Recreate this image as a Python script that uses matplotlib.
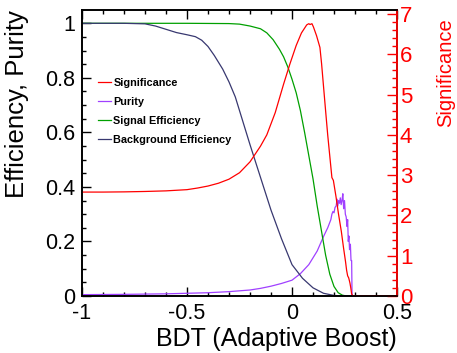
import matplotlib
matplotlib.use("Agg")
import matplotlib.pyplot as plt
from matplotlib.ticker import MultipleLocator, FuncFormatter

plt.rcParams['font.family'] = ['Liberation Sans', 'DejaVu Sans']
plt.rcParams['axes.unicode_minus'] = False

# Significance (right axis)
sig_x = [-1.0, -0.9, -0.8, -0.7, -0.6, -0.5, -0.45, -0.4, -0.35, -0.3, -0.25, -0.2,
         -0.15, -0.12, -0.08, -0.04, -0.01, 0.02, 0.045, 0.07, 0.08, 0.086, 0.095,
         0.102, 0.117, 0.133, 0.141, 0.149, 0.16, 0.17, 0.19, 0.197, 0.21, 0.221,
         0.235, 0.245, 0.255, 0.26, 0.265, 0.27, 0.276, 0.28, 0.284, 0.29, 0.5]
sig_y = [2.58, 2.58, 2.585, 2.595, 2.61, 2.64, 2.68, 2.73, 2.8, 2.9, 3.06, 3.33,
         3.72, 4.0, 4.55, 5.26, 5.76, 6.22, 6.53, 6.73, 6.76, 6.74, 6.76,
         6.68, 6.46, 6.17, 5.76, 5.27, 4.6, 4.0, 2.94, 2.87, 2.45, 2.05,
         1.6, 1.21, 0.85, 0.64, 0.5, 0.45, 0.32, 0.2, 0.05, 0.0, 0.0]

# Purity
pur_x = [-1.0, -0.8, -0.6, -0.5, -0.4, -0.3, -0.2, -0.15, -0.1, -0.05, 0.0, 0.04,
         0.08, 0.1, 0.12, 0.15, 0.17, 0.185, 0.19, 0.195, 0.2, 0.205, 0.21, 0.215,
         0.218, 0.222, 0.226, 0.23, 0.234, 0.238, 0.242, 0.246, 0.25, 0.254, 0.258,
         0.262, 0.265, 0.268, 0.271, 0.274, 0.278, 0.281, 0.284, 0.286, 0.5]
pur_y = [0.005, 0.006, 0.008, 0.01, 0.012, 0.016, 0.022, 0.028, 0.036, 0.046, 0.058, 0.082,
         0.115, 0.14, 0.165, 0.218, 0.25, 0.28, 0.3, 0.31, 0.305, 0.325, 0.33, 0.355,
         0.33, 0.35, 0.34, 0.36, 0.335, 0.35, 0.375, 0.32, 0.35, 0.3, 0.29,
         0.255, 0.28, 0.2, 0.22, 0.17, 0.19, 0.13, 0.13, 0.0, 0.0]

# Signal efficiency
seff_x = [-1.0, -0.5, -0.3, -0.25, -0.2, -0.15, -0.12, -0.09, -0.06, -0.04, -0.02,
          0.0, 0.02, 0.04, 0.06, 0.08, 0.1, 0.12, 0.14, 0.16, 0.18, 0.2, 0.22, 0.24,
          0.26, 0.5]
seff_y = [1.0, 1.0, 0.999, 0.997, 0.99, 0.98, 0.965, 0.94, 0.905, 0.877, 0.84,
          0.795, 0.745, 0.68, 0.6, 0.515, 0.43, 0.33, 0.24, 0.15, 0.08, 0.035, 0.012, 0.003,
          0.0, 0.0]

# Background efficiency
beff_x = [-1.0, -0.8, -0.7, -0.65, -0.6, -0.55, -0.5, -0.46, -0.43, -0.4, -0.37, -0.33,
          -0.3, -0.27, -0.25, -0.2, -0.15, -0.1, -0.05, 0.0, 0.05, 0.1, 0.15, 0.2, 0.25, 0.5]
beff_y = [1.0, 1.0, 0.998, 0.99, 0.978, 0.966, 0.958, 0.951, 0.938, 0.915, 0.882, 0.832,
          0.785, 0.73, 0.68, 0.555, 0.435, 0.315, 0.21, 0.115, 0.065, 0.03, 0.01, 0.002, 0.0, 0.0]

red = '#ff0000'
fig = plt.figure(figsize=(4.57, 3.53), dpi=100)
ax = fig.add_axes([82 / 457, 1 - 296 / 353, 315 / 457, 286 / 353])
ax2 = ax.twinx()

l_pur, = ax.plot(pur_x, pur_y, color='#a040ff', lw=0.9, label='Purity')
l_seff, = ax.plot(seff_x, seff_y, color='#00a000', lw=0.9, label='Signal Efficiency')
l_beff, = ax.plot(beff_x, beff_y, color='#383870', lw=0.9, label='Background Efficiency')
l_sig, = ax2.plot(sig_x, sig_y, color=red, lw=0.9, label='Significance')

ax.set_xlim(-1, 0.5)
ax.set_ylim(0, 1.0488)
ax2.set_ylim(0, 7.1)

fmt = FuncFormatter(lambda v, p: '%g' % round(v, 3))
ax.xaxis.set_major_locator(MultipleLocator(0.5))
ax.xaxis.set_minor_locator(MultipleLocator(0.1))
ax.yaxis.set_major_locator(MultipleLocator(0.2))
ax.yaxis.set_minor_locator(MultipleLocator(0.05))
ax.xaxis.set_major_formatter(fmt)
ax.yaxis.set_major_formatter(fmt)
ax2.yaxis.set_major_locator(MultipleLocator(1))
ax2.yaxis.set_minor_locator(MultipleLocator(0.2))
ax2.yaxis.set_major_formatter(fmt)

ax.tick_params(which='both', direction='in', top=True, right=False, width=1.0)
ax.tick_params(which='major', length=6.5, labelsize=15.5, pad=5)
ax.tick_params(which='minor', length=3.2)
ax.tick_params(axis='x', which='major', pad=5)
ax2.tick_params(which='both', direction='in', color=red, labelcolor=red, width=1.0)
ax2.tick_params(which='major', length=7, labelsize=16, pad=2)
ax2.tick_params(which='minor', length=3.5)

for s in ax.spines.values():
    s.set_linewidth(1.2)
for s in ax2.spines.values():
    s.set_linewidth(1.2)
ax2.spines['right'].set_color(red)

ax.set_xlabel('BDT (Adaptive Boost)', fontsize=18, loc='right')
ax.xaxis.set_label_coords(1.0, -0.11)
ax.set_ylabel('Efficiency, Purity', fontsize=18.5, loc='top')
ax.yaxis.set_label_coords(-0.168, 1.0)
ax2.set_ylabel('Significance', fontsize=14.5, color=red, loc='top')
ax2.yaxis.set_label_coords(1.125, 0.972)

ax2.legend(handles=[l_sig, l_pur, l_seff, l_beff], loc='center left',
           bbox_to_anchor=(0.05, 0.645), frameon=False, borderpad=0, borderaxespad=0,
           handlelength=1.2, handletextpad=0.25, labelspacing=0.83,
           prop={'weight': 'bold', 'size': 7.8})

fig.savefig('out.png', dpi=100)
